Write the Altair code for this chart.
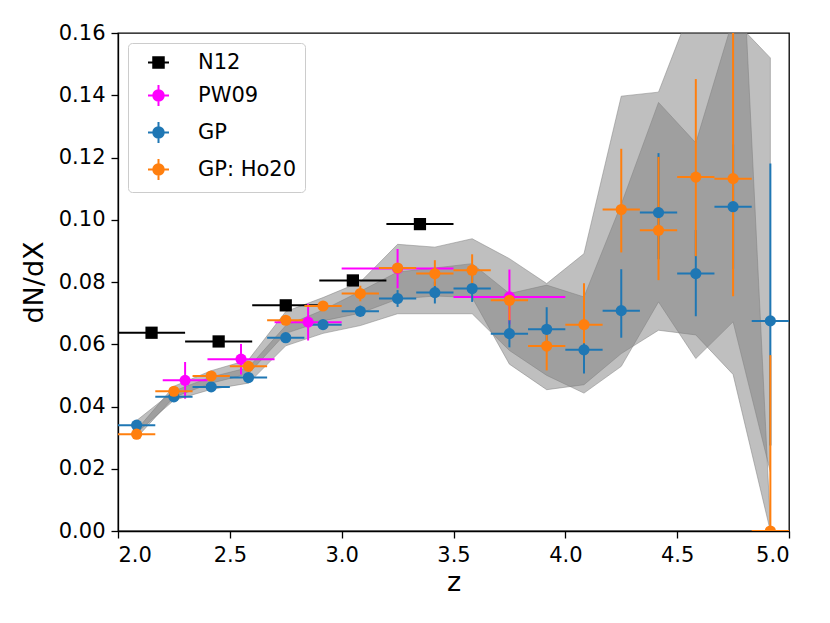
import altair as alt
import pandas as pd

# ---------------- data ----------------
z_edges = [2.0, 2.1667, 2.3333, 2.5, 2.6667, 2.8333, 3.0, 3.1667, 3.3333, 3.5,
           3.6667, 3.8333, 4.0, 4.1667, 4.3333, 4.5, 4.6667, 4.8333, 5.0]

gp_val = [0.0340, 0.0431, 0.0463, 0.0493, 0.0621, 0.0663, 0.0706, 0.0747, 0.0766,
          0.0779, 0.0634, 0.0648, 0.0582, 0.0708, 0.1023, 0.0827, 0.1042, 0.0675]
gp_elo = [0.0012, 0.0012, 0.0012, 0.0014, 0.0015, 0.0016, 0.0018, 0.0027, 0.0035,
          0.0043, 0.0044, 0.0065, 0.0076, 0.0087, 0.0150, 0.0137, 0.0200, 0.0400]
gp_ehi = [0.0012, 0.0012, 0.0012, 0.0014, 0.0015, 0.0016, 0.0018, 0.0027, 0.0035,
          0.0043, 0.0044, 0.0071, 0.0080, 0.0133, 0.0191, 0.0140, 0.0200, 0.0506]

ho_val = [0.0311, 0.0449, 0.0498, 0.0529, 0.0677, 0.0723, 0.0763, 0.0845, 0.0827,
          0.0838, 0.0741, 0.0594, 0.0663, 0.1033, 0.0966, 0.1137, 0.1132, 0.0]
ho_elo = [0.0012, 0.0012, 0.0012, 0.0012, 0.0015, 0.0015, 0.0025, 0.0015, 0.0040,
          0.0045, 0.0064, 0.0078, 0.0060, 0.0138, 0.0160, 0.0254, 0.0378, 0.0]
ho_ehi = [0.0012, 0.0012, 0.0012, 0.0012, 0.0015, 0.0015, 0.0025, 0.0015, 0.0043,
          0.0051, 0.0020, 0.0060, 0.0133, 0.0195, 0.0236, 0.0315, 0.0500, 0.0565]

# shaded bands (GP and GP: Ho20)
gp_band_lo = [0.0315, 0.0420, 0.0455, 0.0475, 0.0595, 0.0635, 0.0660, 0.0698, 0.0698,
              0.0698, 0.0580, 0.0500, 0.0443, 0.0529, 0.0736, 0.0554, 0.0672, 0.0190]
gp_band_hi = [0.0355, 0.0450, 0.0495, 0.0525, 0.0660, 0.0710, 0.0770, 0.0832, 0.0845,
              0.0859, 0.0763, 0.0790, 0.0752, 0.1050, 0.1377, 0.1247, 0.1645, 0.1520]
ho_band_lo = [0.0300, 0.0430, 0.0475, 0.0505, 0.0635, 0.0675, 0.0700, 0.0745, 0.0755,
              0.0750, 0.0536, 0.0454, 0.0470, 0.0570, 0.0645, 0.0630, 0.0503, 0.0000]
ho_band_hi = [0.0325, 0.0465, 0.0515, 0.0550, 0.0705, 0.0750, 0.0800, 0.0921, 0.0912,
              0.0939, 0.0875, 0.0795, 0.0891, 0.1397, 0.1410, 0.1720, 0.2490, 0.0020]

n12_z = [2.15, 2.45, 2.75, 3.05, 3.35]
n12_zlo = [2.0, 2.3, 2.6, 2.9, 3.2]
n12_zhi = [2.3, 2.6, 2.9, 3.2, 3.5]
n12_val = [0.0637, 0.0609, 0.0725, 0.0805, 0.0986]

pw_z = [2.3, 2.55, 2.85, 3.25, 3.75]
pw_zlo = [2.2, 2.4, 2.7, 3.0, 3.5]
pw_zhi = [2.4, 2.7, 3.0, 3.5, 4.0]
pw_val = [0.0484, 0.0552, 0.0671, 0.0843, 0.0752]
pw_err = [0.0059, 0.0049, 0.0059, 0.0063, 0.0088]

series = ["N12", "PW09", "GP", "GP: Ho20"]
colors = ["#000000", "#ff00ff", "#1f77b4", "#ff7f0e"]

# ---------------- tables ----------------
z_lo = z_edges[:-1]
z_hi = z_edges[1:]
z_c = [(a + b) / 2 for a, b in zip(z_lo, z_hi)]


def binned(vals, elo, ehi):
    return pd.DataFrame({
        "z": z_c, "x0": z_lo, "x1": z_hi, "v": vals,
        "lo": [v - e for v, e in zip(vals, elo)],
        "hi": [v + e for v, e in zip(vals, ehi)],
    })


gp_df = binned(gp_val, gp_elo, gp_ehi)
ho_df = binned(ho_val, ho_elo, ho_ehi)
n12_df = pd.DataFrame({"z": n12_z, "x0": n12_zlo, "x1": n12_zhi, "v": n12_val})
pw_df = pd.DataFrame({"z": pw_z, "x0": pw_zlo, "x1": pw_zhi, "v": pw_val,
                      "lo": [v - e for v, e in zip(pw_val, pw_err)],
                      "hi": [v + e for v, e in zip(pw_val, pw_err)]})

band_gp = pd.DataFrame({"z": z_c, "lo": gp_band_lo, "hi": gp_band_hi})
band_ho = pd.DataFrame({"z": z_c, "lo": ho_band_lo, "hi": ho_band_hi})

legend_df = pd.DataFrame({"series": series, "z": [2.5] * 4, "v": [-1.0] * 4})

# ---------------- scales / axes ----------------
FONT = "DejaVu Sans"
xs = alt.Scale(domain=[2.0, 5.0], nice=False, zero=False)
ys = alt.Scale(domain=[0.0, 0.16], nice=False, zero=False)
xaxis = alt.Axis(values=[2.0, 2.5, 3.0, 3.5, 4.0, 4.5, 5.0], format=".1f",
                 title="z", titlePadding=4)
yaxis = alt.Axis(values=[0.0, 0.02, 0.04, 0.06, 0.08, 0.10, 0.12, 0.14, 0.16],
                 format=".2f", title="dN/dX", titlePadding=10)


def X(f):
    return alt.X(f, scale=xs, axis=xaxis)


def Y(f):
    return alt.Y(f, scale=ys, axis=yaxis)


band_style = dict(clip=True, fill="gray", fillOpacity=0.5, stroke="gray",
                  strokeOpacity=0.5, strokeWidth=1, interpolate="linear")

layers = []
for b in (band_gp, band_ho):
    layers.append(alt.Chart(b).mark_area(**band_style).encode(
        x=X("z:Q"), y=Y("lo:Q"), y2="hi:Q"))

for df, col, vert in ((n12_df, colors[0], False), (pw_df, colors[1], True),
                      (gp_df, colors[2], True), (ho_df, colors[3], True)):
    layers.append(alt.Chart(df).mark_rule(color=col, strokeWidth=2, clip=True).encode(
        x=X("x0:Q"), x2="x1:Q", y=Y("v:Q")))
    if vert:
        layers.append(alt.Chart(df).mark_rule(color=col, strokeWidth=2, clip=True).encode(
            x=X("z:Q"), y=Y("lo:Q"), y2="hi:Q"))

# markers, drawn above every error bar
layers.append(alt.Chart(n12_df).mark_square(color=colors[0], size=150, opacity=1,
                                             clip=True).encode(x=X("z:Q"), y=Y("v:Q")))
for df, col in ((pw_df, colors[1]), (gp_df, colors[2]), (ho_df, colors[3])):
    layers.append(alt.Chart(df).mark_circle(color=col, size=125, opacity=1,
                                            clip=True).encode(x=X("z:Q"), y=Y("v:Q")))

# legend symbols: an error-bar cross with a filled marker (filled by concentric strokes)
disc = "".join(
    "M{r},0A{r},{r},0,1,1,-{r},0A{r},{r},0,1,1,{r},0Z".format(r=r)
    for r in (0.5, 0.41, 0.32, 0.23, 0.14, 0.05))
cross_path = "M-1,0H1M0,-1V1" + disc
sq_path = "M-1,0H1" + "".join(
    "M-{h},-{h}H{h}V{h}H-{h}Z".format(h=h) for h in (0.5, 0.41, 0.32, 0.23, 0.14, 0.05))

legend = alt.Legend(
    title=None, orient="none", legendX=10, legendY=10,
    labelFont=FONT, labelFontSize=21, labelColor="black", labelOffset=28,
    symbolOffset=11, padding=8, rowPadding=8,
    symbolSize=441, symbolStrokeWidth=2, symbolOpacity=1,
    strokeColor="#cccccc", fillColor="rgba(255,255,255,0.8)", cornerRadius=4,
)

layers.append(alt.Chart(legend_df).mark_point(filled=False, opacity=1, size=441,
                                              strokeWidth=2, clip=True).encode(
    x=X("z:Q"), y=Y("v:Q"),
    color=alt.Color("series:N", scale=alt.Scale(domain=series, range=colors), legend=legend),
    shape=alt.Shape("series:N", scale=alt.Scale(
        domain=series, range=[sq_path, cross_path, cross_path, cross_path]), legend=legend),
).transform_filter("datum.v > 0"))

chart = alt.layer(*layers).properties(
    width=671, height=498,
    autosize=alt.AutoSizeParams(type="none"),
    padding={"left": 110, "top": 25, "right": 30, "bottom": 80},
).configure_view(stroke="black", strokeWidth=1.3).configure_axis(
    grid=False, domainColor="black", domainWidth=1.3, tickColor="black",
    tickWidth=1.3, tickSize=7, labelFont=FONT, labelFontSize=21,
    labelColor="black", labelPadding=6, titleFont=FONT, titleFontSize=27,
    titleFontWeight="normal", titleColor="black",
)

chart.save("out.html", embed_options={"renderer": "svg", "actions": False})
